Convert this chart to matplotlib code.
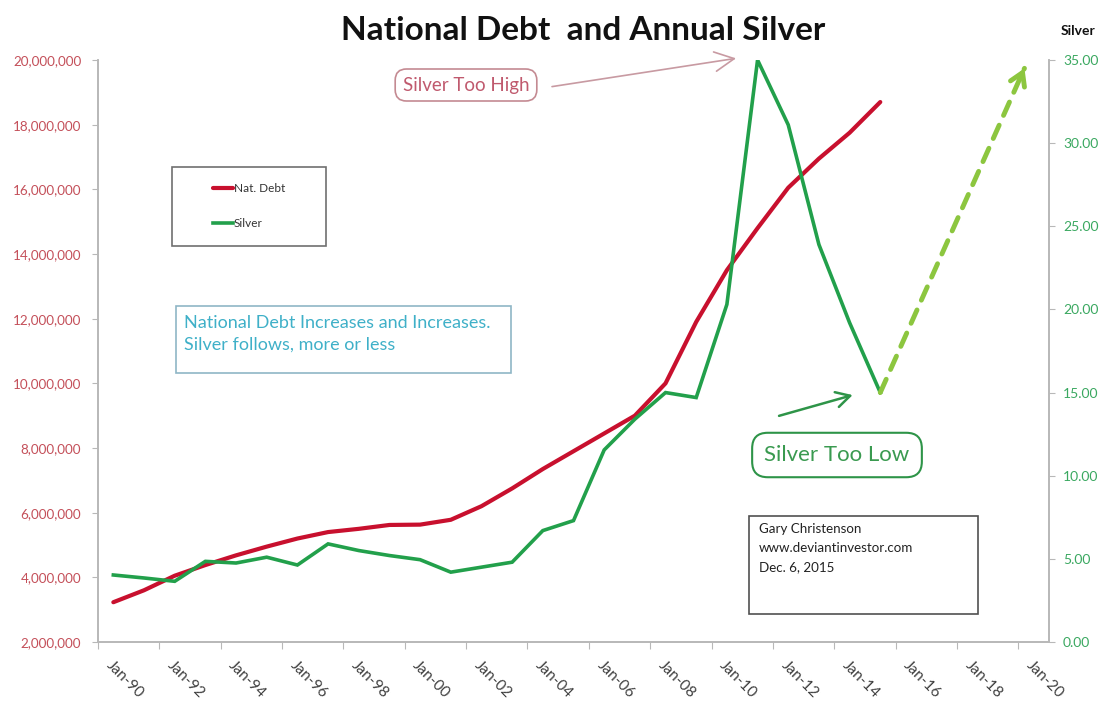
import numpy as np
import matplotlib
matplotlib.use('Agg')
import matplotlib.pyplot as plt
from matplotlib.patches import Rectangle
from matplotlib.ticker import FuncFormatter, FixedLocator

plt.rcParams['font.family'] = ['Lato', 'DejaVu Sans']

# ---------------------------------------------------------
# Data: national debt (millions $) and annual silver price
# ---------------------------------------------------------
years = list(range(1990, 2016))
nat_debt = [3.23, 3.60, 4.05, 4.38, 4.68, 4.95, 5.20, 5.40, 5.50, 5.62,
            5.63, 5.78, 6.20, 6.75, 7.35, 7.90, 8.45, 9.00, 10.00, 11.90,
            13.50, 14.80, 16.05, 16.95, 17.75, 18.70]
nat_debt = [v * 1e6 for v in nat_debt]
silver = [4.03, 3.85, 3.65, 4.85, 4.75, 5.10, 4.63, 5.90, 5.50, 5.20,
          4.95, 4.20, 4.50, 4.80, 6.70, 7.30, 11.55, 13.40, 15.00, 14.70,
          20.30, 35.00, 31.10, 23.90, 19.20, 15.00]
# projected move for silver
proj_years = [2015, 2019.7]
proj_silver = [15.0, 34.5]

debt_ticks = list(range(2000000, 20000001, 2000000))
silver_ticks = [0, 5, 10, 15, 20, 25, 30, 35]
label_years = list(range(1990, 2021, 2))
tick_bounds = [y - 0.5 for y in range(1990, 2021, 2)]

RED = '#c8102e'
GREEN = '#22a04b'
LIGHT_GREEN = '#8cc63f'

fig = plt.figure(figsize=(11.11, 7.05), dpi=100)
W, H = 1111, 705
ax = fig.add_axes([98 / W, 1 - 642 / H, 951 / W, 582 / H])
ax2 = ax.twinx()

# ---------------------------------------------------------
# Lines
# ---------------------------------------------------------
line_debt, = ax.plot(years, nat_debt, color=RED, lw=3, label='Nat. Debt',
                     solid_capstyle='round')
line_silver, = ax2.plot(years, silver, color=GREEN, lw=2.6, label='Silver',
                        solid_joinstyle='miter')

ax.set_xlim(1989.5, 2020.5)
ax.set_ylim(2000000, 20000000)
ax2.set_ylim(0, 35)

# ---------------------------------------------------------
# Axes styling
# ---------------------------------------------------------
for a in (ax, ax2):
    a.spines['top'].set_visible(False)
    for s in ('left', 'right', 'bottom'):
        a.spines[s].set_color('#b8b8b8')
        a.spines[s].set_linewidth(1.2)

ax.set_yticks(debt_ticks)
ax.yaxis.set_major_formatter(FuncFormatter(lambda v, p: f'{int(v):,}'))
ax.tick_params(axis='y', colors='#b8b8b8', labelcolor='#c4505a', labelsize=9.7,
               length=4, pad=8)

ax2.set_yticks(silver_ticks)
ax2.yaxis.set_major_formatter(FuncFormatter(lambda v, p: f'{v:.2f}'))
ax2.tick_params(axis='y', colors='#b8b8b8', labelcolor='#3aa860', labelsize=10,
                length=4, pad=6)

# tick marks on the 2-year boundaries, labels on the years themselves
ax.xaxis.set_major_locator(FixedLocator(tick_bounds))
ax.xaxis.set_major_formatter(FuncFormatter(lambda v, p: ''))
ax.xaxis.set_minor_locator(FixedLocator(label_years))
ax.set_xticklabels([f'Jan-{y % 100:02d}' for y in label_years], minor=True)
ax.tick_params(axis='x', which='major', colors='#b8b8b8', length=5)
ax.tick_params(axis='x', which='minor', length=0, labelsize=11,
               labelcolor='#404040', pad=12)
for lbl in ax.get_xticklabels(minor=True):
    lbl.set_rotation(-45)
    lbl.set_ha('left')
    lbl.set_va('top')
    lbl.set_rotation_mode('anchor')

# ---------------------------------------------------------
# Titles
# ---------------------------------------------------------
fig.text(583 / W, 1 - 30 / H, 'National Debt  and Annual Silver', ha='center',
         va='center', fontsize=24, fontweight='bold', color='#111111')
fig.text(1078 / W, 1 - 31 / H, 'Silver', ha='center', va='center',
         fontsize=10, fontweight='bold', color='#111111')

# ---------------------------------------------------------
# Legend with its own frame
# ---------------------------------------------------------
fig.add_artist(Rectangle((172 / W, 1 - 246 / H), 154 / W, 79 / H,
                         transform=fig.transFigure, fill=False,
                         edgecolor='#707070', lw=1.2))
fig.legend(handles=[line_debt, line_silver], loc='center',
           bbox_to_anchor=(249 / W, 1 - 206 / H), frameon=False,
           fontsize=8.5, handlelength=1.7, handletextpad=0.1,
           labelspacing=2.0, labelcolor='#333333')

# ---------------------------------------------------------
# Text boxes
# ---------------------------------------------------------
fig.add_artist(Rectangle((176 / W, 1 - 373 / H), 335 / W, 67 / H,
                         transform=fig.transFigure, fill=False,
                         edgecolor='#8fb6c6', lw=1.2))
fig.text(184 / W, 1 - 323 / H, 'National Debt Increases and Increases.',
         ha='left', va='center', fontsize=13, color='#3fb0c8')
fig.text(184 / W, 1 - 345 / H, 'Silver follows, more or less',
         ha='left', va='center', fontsize=13, color='#3fb0c8')

fig.add_artist(Rectangle((749 / W, 1 - 614 / H), 229 / W, 98 / H,
                         transform=fig.transFigure, fill=False,
                         edgecolor='#505050', lw=1.2))
for i, line in enumerate(['Gary Christenson', 'www.deviantinvestor.com',
                          'Dec. 6, 2015']):
    fig.text(759 / W, 1 - (529 + 19 * i) / H, line, ha='left', va='center',
             fontsize=9.6, color='#222222')

# ---------------------------------------------------------
# Callouts
# ---------------------------------------------------------
fig.text(466 / W, 1 - 85 / H, 'Silver Too High', ha='center', va='center',
         fontsize=13.5, color='#c05a6e',
         bbox=dict(boxstyle='round,pad=0.4,rounding_size=0.6', fc='white',
                   ec='#c48a92', lw=1.2))
ax2.annotate('', xy=(2010.3, 35.1), xytext=(2004.3, 33.4),
             annotation_clip=False,
             arrowprops=dict(arrowstyle='->,head_length=1.4,head_width=0.7',
                             color='#c89aa2', lw=1.2, shrinkA=0, shrinkB=0))

fig.text(837 / W, 1 - 455 / H, 'Silver Too Low', ha='center', va='center',
         fontsize=16, color='#3a9a50',
         bbox=dict(boxstyle='round,pad=0.55,rounding_size=0.7', fc='white',
                   ec='#2e9448', lw=1.5))
ax2.annotate('', xy=(2014.1, 14.85), xytext=(2011.7, 13.6),
             annotation_clip=False,
             arrowprops=dict(arrowstyle='->,head_length=1.0,head_width=0.55',
                             color='#2e9448', lw=1.8, shrinkA=0, shrinkB=0))

# dashed projection line, with a solid open head at its tip
ax2.annotate('', xy=(proj_years[1], proj_silver[1]),
             xytext=(proj_years[0], proj_silver[0]), annotation_clip=False,
             arrowprops=dict(arrowstyle='-', color=LIGHT_GREEN, lw=3.5,
                             linestyle=(0, (3, 2.2)), shrinkA=0, shrinkB=0))
tip_dx = (proj_years[1] - proj_years[0]) * 0.03
tip_dy = (proj_silver[1] - proj_silver[0]) * 0.03
ax2.annotate('', xy=(proj_years[1], proj_silver[1]),
             xytext=(proj_years[1] - tip_dx, proj_silver[1] - tip_dy),
             annotation_clip=False,
             arrowprops=dict(arrowstyle='->,head_length=0.9,head_width=0.55',
                             color=LIGHT_GREEN, lw=3.5, shrinkA=0, shrinkB=0))

fig.savefig('out.png', dpi=100)
